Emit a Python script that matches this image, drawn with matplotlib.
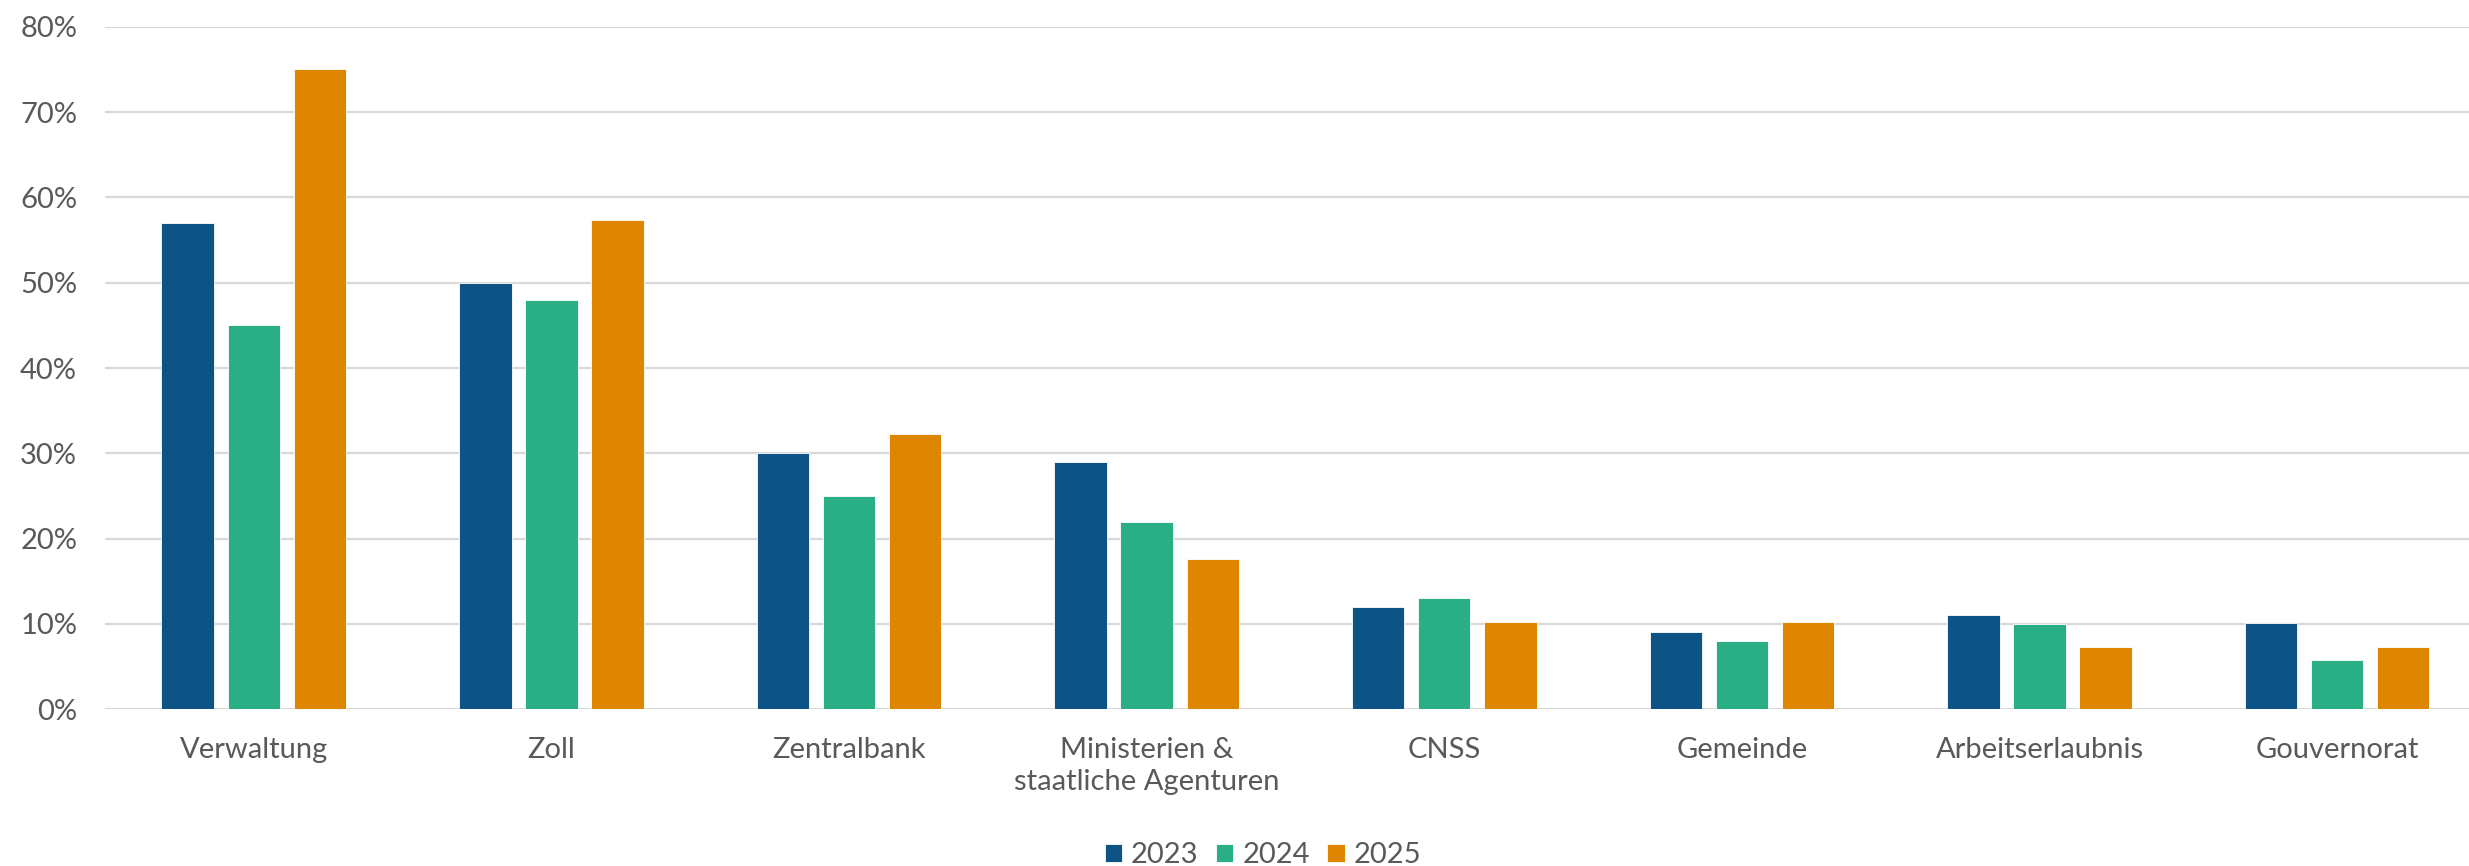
import matplotlib.pyplot as plt
import numpy as np
from matplotlib.ticker import PercentFormatter

# Kategorien und Werte (Anteil in %)
kategorien = ['Verwaltung', 'Zoll', 'Zentralbank', 'Ministerien &\nstaatliche Agenturen',
              'CNSS', 'Gemeinde', 'Arbeitserlaubnis', 'Gouvernorat']
jahre = ['2023', '2024', '2025']
werte_2023 = [57, 50, 30, 29, 12, 9, 11, 10.1]
werte_2024 = [45, 48, 25, 22, 13, 8, 10, 5.8]
werte_2025 = [75, 57.4, 32.3, 17.6, 10.2, 10.2, 7.3, 7.3]
farben = ['#0E5386', '#29AE85', '#DE8600']

plt.rcParams['font.family'] = ['Lato', 'DejaVu Sans']
textfarbe = '#595959'

fig = plt.figure(figsize=(24.69, 8.66), dpi=100)
ax = fig.add_axes([0.0425, 0.181, 0.9644, 0.788])

x = np.arange(len(kategorien))
breite = 0.176
abstand = 0.222
for i, (werte, jahr) in enumerate(zip([werte_2023, werte_2024, werte_2025], jahre)):
    ax.bar(x + (i - 1) * abstand, werte, width=breite, color=farben[i],
           edgecolor='white', linewidth=0.6, label=jahr, zorder=3)

ax.set_xlim(-0.5, len(kategorien) - 0.5)
ax.set_ylim(0, 80)
ax.set_yticks(range(0, 81, 10))
ax.yaxis.set_major_formatter(PercentFormatter(decimals=0))
ax.set_xticks(x)
ax.set_xticklabels(kategorien, linespacing=1.3)

ax.grid(axis='y', color='#D9D9D9', linewidth=1.6, zorder=0)
for s in ax.spines.values():
    s.set_visible(False)
ax.tick_params(axis='both', length=0, labelsize=21, labelcolor=textfarbe)
ax.tick_params(axis='y', pad=20)
ax.tick_params(axis='x', pad=20)

fig.legend(loc='lower center', bbox_to_anchor=(0.5115, -0.033), ncol=3, frameon=False,
           fontsize=21, labelcolor=textfarbe, handlelength=0.6, handleheight=0.6,
           handletextpad=0.3, columnspacing=0.6)

fig.savefig('out.png', dpi=100, facecolor='white')
